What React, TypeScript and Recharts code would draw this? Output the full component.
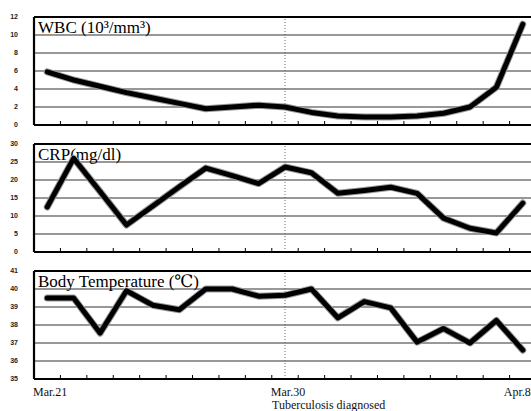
import React from 'react';
import { LineChart, Line, XAxis, YAxis, CartesianGrid, ReferenceLine, Customized } from 'recharts';

const days = [0, 1, 2, 3, 4, 5, 6, 7, 8, 9, 10, 11, 12, 13, 14, 15, 16, 17, 18];
const labelDays = [0, 9, 18];
const labelTexts = ['Mar.21', 'Mar.30', 'Apr.8'];
const diagnosisDay = 9;
const diagnosisText = 'Tuberculosis diagnosed';

const wbc = [5.9, 5.0, 4.3, 3.6, 3.0, 2.4, 1.8, 2.0, 2.2, 2.0, 1.4, 1.0, 0.9, 0.9, 1.0, 1.3, 2.0, 4.2, 11.2];
const crp = [12.5, 26, 16.8, 7.5, 12.8, 18.1, 23.3, 21.2, 19, 23.6, 22, 16.3, 17.1, 18, 16.3, 9.4, 6.6, 5.3, 13.6];
const temp = [39.5, 39.5, 37.55, 39.9, 39.1, 38.85, 40, 40, 39.6, 39.65, 40, 38.4, 39.3, 38.95, 37.05, 37.8, 37, 38.25, 36.6];

const wbcTicks = [0, 2, 4, 6, 8, 10, 12];
const crpTicks = [0, 5, 10, 15, 20, 25, 30];
const tempTicks = [35, 36, 37, 38, 39, 40, 41];

const data = days.map((d, i) => ({ day: d, wbc: wbc[i], crp: crp[i], temp: temp[i] }));
const boundaryTicks = [-0.5, ...days.map((d) => d + 0.5)];
const xTicks = [...boundaryTicks, ...labelDays].sort((a, b) => a - b);

const SERIF = '"Liberation Serif", "Times New Roman", "DejaVu Serif", serif';
const SANS = '"Liberation Sans", Arial, sans-serif';

const XTick = (props: any) => {
  const { x, y, payload, showLabels } = props;
  const v = payload.value;
  const li = labelDays.indexOf(v);
  if (li >= 0) {
    if (!showLabels) return <g />;
    const isLast = li === labelDays.length - 1;
    return (
      <g>
        <text
          x={isLast ? x + 8 : x + 3}
          y={y + 17}
          textAnchor={isLast ? 'end' : 'middle'}
          fontFamily={SERIF}
          fontSize={12}
          fill="#111"
        >
          {labelTexts[li]}
        </text>
        {v === diagnosisDay && (
          <text x={x - 13} y={y + 30} textAnchor="start" fontFamily={SERIF} fontSize={12} fill="#111">
            {diagnosisText}
          </text>
        )}
      </g>
    );
  }
  return <line x1={x} x2={x} y1={y} y2={y - 4} stroke="#000" strokeWidth={1} />;
};

type PanelProps = {
  dataKey: string;
  ticks: number[];
  title: string;
  top: number;
  height: number;
  axisHeight: number;
  showLabels: boolean;
};

const Panel = ({ dataKey, ticks, title, top, height, axisHeight, showLabels }: PanelProps) => {
  const domain = [ticks[0], ticks[ticks.length - 1]];
  return (
    <div style={{ position: 'absolute', left: 0, top }}>
      <LineChart width={536} height={height} data={data} margin={{ top: 17, right: 0, left: 0, bottom: 0 }}>
        <CartesianGrid vertical={false} stroke="#333" strokeWidth={1.2} />
        <ReferenceLine y={domain[1]} stroke="#000" strokeWidth={2.2} />
        <ReferenceLine x={diagnosisDay} stroke="#666" strokeWidth={1} strokeDasharray="1 2" />
        <XAxis
          type="number"
          dataKey="day"
          domain={[-0.5, 18.5]}
          ticks={xTicks}
          interval={0}
          tickSize={0}
          tickMargin={0}
          tickLine={false}
          axisLine={{ stroke: '#000', strokeWidth: 2.2 }}
          height={axisHeight}
          tick={<XTick showLabels={showLabels} />}
        />
        <YAxis
          width={34}
          domain={domain}
          ticks={ticks}
          interval={0}
          tickSize={0}
          tickMargin={16}
          tickLine={false}
          axisLine={{ stroke: '#000', strokeWidth: 2.2 }}
          tick={{ fontSize: 7, fontWeight: 'bold', fill: '#222', fontFamily: SANS }}
        />
        <Customized
          component={
            <text x={38} y={32.5} fontFamily={SERIF} fontSize={17} fill="#000">
              {title}
            </text>
          }
        />
        <Line
          type="linear"
          dataKey={dataKey}
          stroke="#9a9a9a"
          strokeWidth={7}
          dot={false}
          strokeLinejoin="round"
          strokeLinecap="round"
          isAnimationActive={false}
          activeDot={false}
        />
        <Line
          type="linear"
          dataKey={dataKey}
          stroke="#000"
          strokeWidth={5}
          dot={false}
          strokeLinejoin="round"
          strokeLinecap="round"
          isAnimationActive={false}
          activeDot={false}
        />
      </LineChart>
    </div>
  );
};

export default function App() {
  return (
    <div style={{ position: 'absolute', left: 0, top: 0, width: 531, height: 411, overflow: 'hidden', background: '#fff' }}>
      <Panel dataKey="wbc" ticks={wbcTicks} title="WBC (10³/mm³)" top={0} height={127} axisHeight={2} showLabels={false} />
      <Panel dataKey="crp" ticks={crpTicks} title="CRP(mg/dl)" top={127} height={127} axisHeight={2} showLabels={false} />
      <Panel dataKey="temp" ticks={tempTicks} title="Body Temperature (℃)" top={254} height={157} axisHeight={32} showLabels={true} />
    </div>
  );
}
